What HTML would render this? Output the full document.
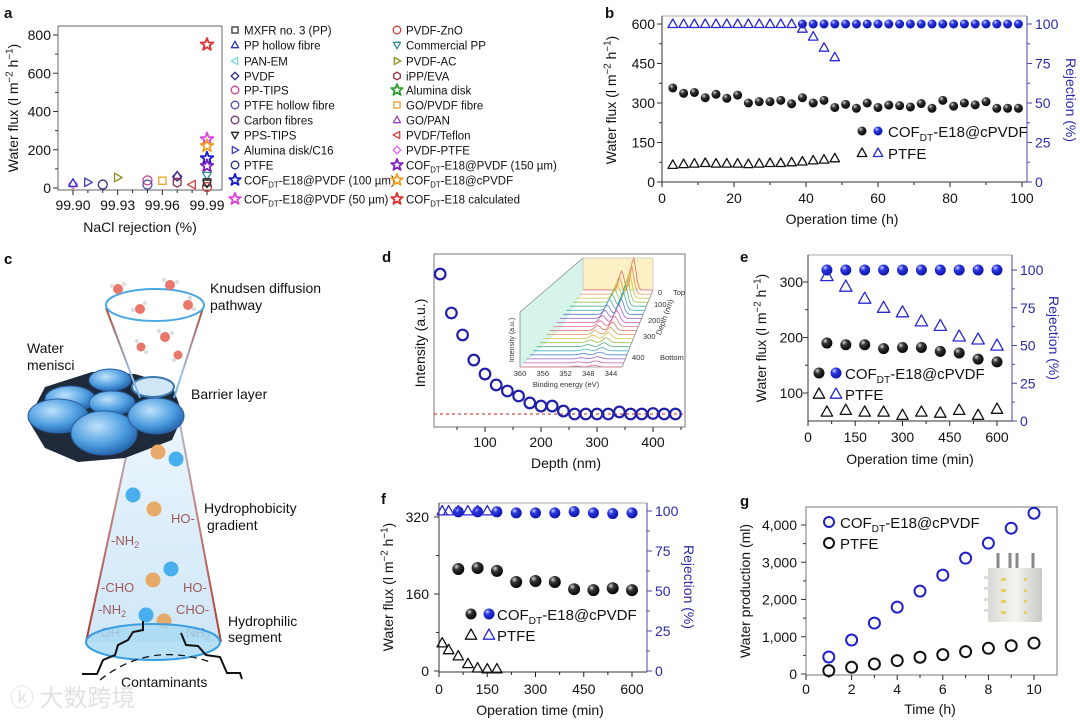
<!DOCTYPE html>
<html><head><meta charset="utf-8">
<style>
body{margin:0;background:#fff}
svg{display:block;font-family:"Liberation Sans","Noto Sans CJK SC",sans-serif}
</style></head>
<body>
<svg id="fig" width="1080" height="721" viewBox="0 0 1080 721" xmlns="http://www.w3.org/2000/svg">
<defs>
<radialGradient id="gBlack" cx="0.35" cy="0.3" r="0.75"><stop offset="0" stop-color="#d8d8d8"/><stop offset="0.35" stop-color="#333"/><stop offset="1" stop-color="#000"/></radialGradient>
<radialGradient id="gBlue" cx="0.35" cy="0.3" r="0.75"><stop offset="0" stop-color="#c8d0ff"/><stop offset="0.35" stop-color="#2a35e0"/><stop offset="1" stop-color="#0a12a0"/></radialGradient>
<linearGradient id="gCone" x1="0" y1="0" x2="0" y2="1"><stop offset="0" stop-color="#eef7fd"/><stop offset="1" stop-color="#cfe7f8"/></linearGradient>
<linearGradient id="gEdge" x1="0" y1="0" x2="0" y2="1"><stop offset="0" stop-color="#b04a3c"/><stop offset="0.75" stop-color="#9cc4e8"/><stop offset="1" stop-color="#6aaee8"/></linearGradient>
<linearGradient id="gEdge2" x1="0" y1="0" x2="0" y2="1"><stop offset="0" stop-color="#a8c8e8"/><stop offset="0.4" stop-color="#c09090"/><stop offset="1" stop-color="#b03a30"/></linearGradient>
<radialGradient id="gMen" cx="0.4" cy="0.35" r="0.7"><stop offset="0" stop-color="#bfe2fb"/><stop offset="0.6" stop-color="#4e9ee0"/><stop offset="1" stop-color="#1f5ea8"/></radialGradient>
<linearGradient id="gBox" x1="0" y1="0" x2="1" y2="0"><stop offset="0" stop-color="#d8d8d4"/><stop offset="0.5" stop-color="#f4f4f0"/><stop offset="1" stop-color="#c8c8c4"/></linearGradient>
</defs>

<!-- Panel c illustration -->
<g>
  <text x="4" y="264" font-size="15" font-weight="bold">c</text>
  <polygon points="140,392 174,392 221,642 86,642" fill="url(#gCone)"/>
  <line x1="140" y1="392" x2="86" y2="642" stroke="url(#gEdge2)" stroke-width="2"/>
  <line x1="174" y1="392" x2="221" y2="642" stroke="url(#gEdge2)" stroke-width="2"/>
  <g>
    <polygon points="28,420 45,387 92,372 135,374 172,385 183,415 172,440 125,458 78,462 45,448" fill="#1e2a3a"/>
    <ellipse cx="70" cy="399" rx="25" ry="13" fill="url(#gMen)" stroke="#2a5ea0"/>
    <ellipse cx="110" cy="380" rx="21" ry="11" fill="url(#gMen)" stroke="#2a5ea0"/>
    <ellipse cx="112" cy="403" rx="23" ry="12" fill="url(#gMen)" stroke="#2a5ea0"/>
    <ellipse cx="58" cy="416" rx="30" ry="17" fill="url(#gMen)" stroke="#2a5ea0"/>
    <ellipse cx="104" cy="433" rx="33" ry="22" fill="url(#gMen)" stroke="#2a5ea0"/>
    <ellipse cx="156" cy="416" rx="28" ry="18" fill="url(#gMen)" stroke="#2a5ea0"/>
    <ellipse cx="153" cy="387" rx="21" ry="10" fill="#cfe6f6" stroke="#3a78b0" stroke-width="2"/>
  </g>
  <line x1="106" y1="308" x2="140" y2="398" stroke="url(#gEdge)" stroke-width="2"/>
  <line x1="203" y1="308" x2="174" y2="398" stroke="url(#gEdge)" stroke-width="2"/>
  <ellipse cx="155" cy="305" rx="49" ry="16" fill="none" stroke="#4aa8e0" stroke-width="2"/>
  <g fill="#e8766a">
    <circle cx="118" cy="289" r="5"/><circle cx="170" cy="285" r="5"/><circle cx="140" cy="309" r="5"/><circle cx="188" cy="305" r="5"/><circle cx="165" cy="337" r="5"/><circle cx="141" cy="347" r="4.5"/><circle cx="178" cy="355" r="4.5"/>
    <g fill="#ddd"><circle cx="112" cy="286" r="2.2"/><circle cx="124" cy="284" r="2.2"/><circle cx="164" cy="280" r="2.2"/><circle cx="177" cy="282" r="2.2"/><circle cx="145" cy="303" r="2.2"/><circle cx="133" cy="310" r="2.2"/><circle cx="190" cy="298" r="2.2"/><circle cx="194" cy="309" r="2.2"/><circle cx="159" cy="331" r="2.2"/><circle cx="172" cy="333" r="2.2"/><circle cx="137" cy="341" r="2"/><circle cx="146" cy="352" r="2"/><circle cx="174" cy="360" r="2"/></g>
  </g>
  <g>
    <circle cx="158" cy="452" r="7.5" fill="#e8aa68"/><circle cx="176" cy="459" r="7.5" fill="#48aeee"/>
    <circle cx="133" cy="495" r="7.5" fill="#48aeee"/><circle cx="154" cy="509" r="7.5" fill="#e8aa68"/>
    <circle cx="171" cy="569" r="7.5" fill="#48aeee"/><circle cx="153" cy="580" r="7.5" fill="#e8aa68"/>
    <circle cx="146" cy="615" r="7.5" fill="#48aeee"/><circle cx="164" cy="621" r="7.5" fill="#e8aa68"/>
  </g>
  <g font-size="13" fill="#a05a5a">
    <text x="171" y="523">HO-</text><text x="111" y="545">-NH<tspan font-size="9" dy="3">2</tspan></text>
    <text x="101" y="592">-CHO</text><text x="183" y="592">HO-</text>
    <text x="98" y="614">-NH<tspan font-size="9" dy="3">2</tspan></text><text x="176" y="614">CHO-</text>
    <text x="96" y="637">-OH</text><text x="186" y="637">NH<tspan font-size="9" dy="3">2</tspan></text>
  </g>
  <ellipse cx="153" cy="642" rx="67" ry="18" fill="#a6d8f4" fill-opacity="0.8" stroke="#3a9ee0" stroke-width="2"/>
  <g fill="none" stroke="#111" stroke-width="2">
    <polyline points="82,674 97,674 103,660 115,655 118,645 128,640 133,632 143,630 143,621"/>
    <polyline points="181,633 186,645 198,646 206,655 220,657 227,673 240,673 242,679"/>
    <path d="M100,680 Q150,640 213,663" stroke-dasharray="7,5" stroke-width="1.3"/>
  </g>
  <g font-size="14" fill="#111">
    <text x="210" y="293">Knudsen diffusion</text><text x="210" y="310">pathway</text>
    <text x="27" y="353">Water</text><text x="27" y="370">menisci</text>
    <text x="191" y="399">Barrier layer</text>
    <text x="204" y="513">Hydrophobicity</text><text x="207" y="530">gradient</text>
    <text x="228" y="626">Hydrophilic</text><text x="228" y="642">segment</text>
    <text x="121" y="687">Contaminants</text>
  </g>
  <text x="10" y="706" font-size="24" fill="#e2e2e2" font-family="'Noto Sans CJK SC',sans-serif">ⓚ 大数跨境</text>
</g>
</svg>

<script>
// ---------- DATA: panel a ----------
const aLegendNames = ["MXFR no. 3 (PP)","PP hollow fibre","PAN-EM","PVDF","PP-TIPS","PTFE hollow fibre","Carbon fibres","PPS-TIPS","Alumina disk/C16","PTFE","COF|-E18@PVDF (100 µm)","COF|-E18@PVDF (50 µm)",
  "PVDF-ZnO","Commercial PP","PVDF-AC","iPP/EVA","Alumina disk","GO/PVDF fibre","GO/PAN","PVDF/Teflon","PVDF-PTFE","COF|-E18@PVDF (150 µm)","COF|-E18@cPVDF","COF|-E18 calculated"];
const aMarkers = ["square","tri","trileft","diamond","circle","circle","circle","tridown","triright","circle","star","star",
  "circle","tridown","triright","hex","star","square","tri","trileft","diamond","star","star","star"];
const aColors = ["#333","#3030c0","#80d8e0","#303080","#d04090","#5050b0","#803070","#222","#4040c0","#303080","#1a1ac8","#e040e0",
  "#d04040","#309090","#909020","#903040","#30a030","#e0a030","#a040c0","#d04040","#e060e0","#8020c0","#f0a020","#e03030"];
const aPtSeries = [20,1,8,9,14,4,5,17,18,3,15,19,23,11,22,10,21,13,7,12,0];
const aPtRejection = [99.90,99.90,99.91,99.92,99.93,99.95,99.95,99.96,99.97,99.97,99.97,99.98,99.99,99.99,99.99,99.99,99.99,99.99,99.99,99.99,99.99];
const aPtFlux = [20,25,30,18,55,40,18,38,65,60,28,18,750,255,220,155,115,65,25,5,30];
const aXTicks = [99.90,99.93,99.96,99.99];
const aYTicks = [0,200,400,600,800];

// ---------- DATA: panel b ----------
const bCofTime = [3,6,9,12,15,18,21,24,27,30,33,36,39,42,45,48,51,54,57,60,63,66,69,72,75,78,81,84,87,90,93,96,99];
const bCofFlux = [357,337,340,320,333,318,330,300,305,305,310,297,320,300,310,283,295,280,300,283,292,290,285,298,280,310,288,300,293,305,280,280,280];
const bCofRejTime = [39,42,45,48,51,54,57,60,63,66,69,72,75,78,81,84,87,90,93,96,99];
const bCofRej = [100,100,100,100,100,100,100,100,100,100,100,100,100,100,100,100,100,100,100,100,100];
const bPtfeTime = [3,6,9,12,15,18,21,24,27,30,33,36,39,42,45,48];
const bPtfeFlux = [65,68,70,72,70,70,70,68,70,72,72,75,78,82,85,90];
const bPtfeRej = [100,100,100,100,100,100,100,100,100,100,100,100,97,92,85,79];
const bXTicks = [0,20,40,60,80,100];
const bYTicks = [0,150,300,450,600];
const bRTicks = [0,25,50,75,100];

// ---------- DATA: panel d ----------
const dDepth = [20,40,60,80,100,120,140,160,180,200,220,240,260,280,300,320,340,360,380,400,420,440];
const dIntensity = [88.4,65.9,53.2,38.7,30.6,24.3,20.8,17.9,13.9,12.1,12.1,9.2,7.5,7.5,7.5,7.5,8.7,7.5,7.5,7.8,7.5,7.5];
const dBaseline = [7.5];
const dXTicks = [100,200,300,400];

// ---------- DATA: panel e ----------
const eTime = [60,120,180,240,300,360,420,480,540,600];
const eCofFlux = [190,187,187,180,182,182,175,172,161,156];
const ePtfeFlux = [66,69,66,66,60,66,64,69,60,71];
const eCofRej = [100,100,100,100,100,100,100,100,100,100];
const ePtfeRej = [96,89,81,75,72,66,63,56,54,50];
const eXTicks = [0,150,300,450,600];
const eYTicks = [100,200,300];
const eRTicks = [0,25,50,75,100];

// ---------- DATA: panel f ----------
const fTime = [60,120,180,240,300,360,420,480,540,600];
const fCofFlux = [212,214,208,185,187,185,170,168,172,168];
const fCofRej = [99.5,99.5,99.5,98.8,98.8,98.8,99.6,98.8,98.4,98.8];
const fPtfeTime = [10,30,60,90,120,150,180];
const fPtfeFlux = [58,44,31,15,6,4,4];
const fPtfeRejTime = [10,30,60,90,120,150];
const fPtfeRej = [100,100,100,100,100,100];
const fXTicks = [0,150,300,450,600];
const fYTicks = [0,160,320];
const fRTicks = [0,25,50,75,100];

// ---------- DATA: panel g ----------
const gTime = [1,2,3,4,5,6,7,8,9,10];
const gCof = [456,912,1367,1796,2225,2654,3110,3512,3914,4316];
const gPtfe = [90,180,270,360,450,520,600,690,760,830];
const gXTicks = [0,2,4,6,8,10];
const gYTicks = [0,1000,2000,3000,4000];
const gYLabels = ["0","1,000","2,000","3,000","4,000"];

// ---------- helpers ----------
const NS = "http://www.w3.org/2000/svg";
const svg = document.getElementById("fig");
function mk(tag, attrs, parent){ const e = document.createElementNS(NS, tag); for (const k in attrs) e.setAttribute(k, attrs[k]); (parent || svg).appendChild(e); return e; }
function scale(d0, d1, r0, r1){ return v => r0 + (v - d0) * (r1 - r0) / (d1 - d0); }
function grp(parent){ return mk("g", {}, parent); }
const BLUEAX = "#4a4aa0", BLUETX = "#2a2aa8";

function marker(parent, type, x, y, s, color, fill){
  let e, sw = 1.3;
  const f = fill || "none";
  if (type === "circle") e = mk("circle", {cx:x, cy:y, r:s, fill:f, stroke:color, "stroke-width":sw}, parent);
  else if (type === "sphereK") e = mk("circle", {cx:x, cy:y, r:s, fill:"url(#gBlack)"}, parent);
  else if (type === "sphereB") e = mk("circle", {cx:x, cy:y, r:s, fill:"url(#gBlue)"}, parent);
  else if (type === "square") e = mk("rect", {x:x-s*0.8, y:y-s*0.8, width:s*1.6, height:s*1.6, fill:f, stroke:color, "stroke-width":sw}, parent);
  else {
    let pts = [];
    if (type === "tri") pts = [[0,-1],[0.95,0.7],[-0.95,0.7]];
    else if (type === "tridown") pts = [[0,1],[0.95,-0.7],[-0.95,-0.7]];
    else if (type === "trileft") pts = [[-1,0],[0.7,-0.95],[0.7,0.95]];
    else if (type === "triright") pts = [[1,0],[-0.7,-0.95],[-0.7,0.95]];
    else if (type === "diamond") pts = [[0,-1],[1,0],[0,1],[-1,0]];
    else if (type === "hex") { for (let i=0;i<6;i++){ const a = Math.PI/6 + i*Math.PI/3; pts.push([Math.cos(a), Math.sin(a)]); } }
    else if (type === "star") { for (let i=0;i<10;i++){ const a = -Math.PI/2 + i*Math.PI/5; const r = i%2 ? 0.45 : 1.1; pts.push([r*Math.cos(a), r*Math.sin(a)]); } sw = 1.8; }
    e = mk("polygon", {points: pts.map(p => (x+p[0]*s).toFixed(1)+","+(y+p[1]*s).toFixed(1)).join(" "), fill:f, stroke:color, "stroke-width":sw, "stroke-linejoin":"round"}, parent);
  }
  return e;
}
function cofText(parent, x, y, label, size, color){
  const t = mk("text", {x:x, y:y, "font-size":size, fill:color || "#111"}, parent);
  const parts = label.split("|");
  if (parts.length === 1) { t.textContent = label; return t; }
  t.appendChild(document.createTextNode(parts[0]));
  const s1 = mk("tspan", {"font-size":size*0.68, dy:size*0.25}, t); s1.textContent = "DT";
  const s2 = mk("tspan", {dy:-size*0.25}, t); s2.textContent = parts[1];
  return t;
}
function text(parent, x, y, str, size, anchor, color, extra){
  const a = {x:x, y:y, "font-size":size, "text-anchor":anchor || "start", fill:color || "#111"};
  if (extra) for (const k in extra) a[k] = extra[k];
  const t = mk("text", a, parent); t.textContent = str; return t;
}
function fluxTitle(parent, x, y, size){
  const t = mk("text", {x:0, y:0, "font-size":size, "text-anchor":"middle", fill:"#111", transform:"translate("+x+","+y+") rotate(-90)"}, parent);
  t.appendChild(document.createTextNode("Water flux (l m"));
  const a = mk("tspan", {"font-size":size*0.7, dy:-size*0.4}, t); a.textContent = "−2";
  const b = mk("tspan", {dy:size*0.4}, t); b.textContent = " h";
  const c = mk("tspan", {"font-size":size*0.7, dy:-size*0.4}, t); c.textContent = "−1";
  const d = mk("tspan", {dy:size*0.4}, t); d.textContent = ")";
  return t;
}
function ticksY(parent, sc, vals, x, dir, color, len){
  vals.forEach(v => { mk("line", {x1:x, x2:x + dir*len, y1:sc(v), y2:sc(v), stroke:color, "stroke-width":1}, parent); });
}
function ticksX(parent, sc, vals, y, len, color){
  vals.forEach(v => { mk("line", {x1:sc(v), x2:sc(v), y1:y, y2:y+len, stroke:color || "#222", "stroke-width":1}, parent); });
}
function mids(arr){ const r=[]; for (let i=0;i<arr.length-1;i++) r.push((arr[i]+arr[i+1])/2); return r; }

// ---------- Panel a ----------
(function(){
  const g = grp();
  
  
  const lab = text(g, 4, 18, "a", 15, "start", "#111", {"font-weight":"bold"});
  
  
  const L=58, R=222, T=26, B=190;
  const x = scale(99.90, 99.99, 73, 207), y = scale(0, 800, 188, 35);
  const fr = mk("rect", {x:L, y:T, width:R-L, height:B-T, fill:"none", stroke:"#666", "stroke-width":1}, g);
  
  
  ticksY(g, y, aYTicks, L, -1, "#333", 5);
  ticksY(g, y, mids(aYTicks), L, -1, "#333", 3);
  ticksX(g, x, aXTicks, B, 5);
  ticksX(g, x, [99.91,99.92,99.94,99.95,99.97,99.98], B, 3);
  aYTicks.forEach(v => { const t = text(g, L-7, y(v)+5, String(v), 14, "end");
    
     });
  aXTicks.forEach(v => { const t = text(g, x(v), 210, v.toFixed(2), 14, "middle");
    
     });
  const xt = text(g, 140, 232, "NaCl rejection (%)", 14, "middle");
  
  
  const yt = fluxTitle(g, 18, 108, 14);
  
  
  aPtSeries.forEach((si, i) => {
    const m = marker(g, aMarkers[si], x(aPtRejection[i]), y(aPtFlux[i]), aMarkers[si]==="star" ? 6 : 4.5, aColors[si]);
    
    
  });
  const rows = [30,45,61,76,90,105,120,135,150,165,180,199];
  aLegendNames.forEach((nm, i) => {
    const col = i < 12 ? 0 : 1, r = i % 12;
    const mx = col ? 397 : 235, ty = rows[r];
    const lg = grp(g);
    
    
    marker(lg, aMarkers[i], mx, ty, aMarkers[i]==="star" ? 5.5 : 3.8, aColors[i]);
    cofText(lg, mx+9, ty+4.5, nm, 11.5, "#111");
  });
})();

// ---------- Panel b ----------
(function(){
  const g = grp();
  
  
  const lab = text(g, 605, 18, "b", 15, "start", "#111", {"font-weight":"bold"});
  
  
  const L=662, R=1027, T=16, B=182;
  const x = scale(0, 100, 662, 1022), y = scale(0, 600, 182, 24), r = scale(0, 100, 182, 24);
  mk("line", {x1:L, x2:R, y1:T, y2:T, stroke:"#aaa"}, g);
  mk("line", {x1:L, x2:L, y1:T, y2:B, stroke:"#333"}, g);
  mk("line", {x1:L, x2:R, y1:B, y2:B, stroke:"#333"}, g);
  mk("line", {x1:R, x2:R, y1:T, y2:B, stroke:BLUEAX}, g);
  ticksY(g, y, bYTicks, L, -1, "#333", 5);
  ticksY(g, y, mids(bYTicks), L, -1, "#333", 3);
  ticksY(g, r, bRTicks, R, 1, BLUEAX, 5);
  ticksY(g, r, mids(bRTicks), R, 1, BLUEAX, 3);
  ticksX(g, x, bXTicks, B, 5);
  ticksX(g, x, mids(bXTicks), B, 3);
  bYTicks.forEach(v => { const t = text(g, L-7, y(v)+5, String(v), 14, "end");
    
     });
  bRTicks.forEach(v => { const t = text(g, R+8, r(v)+5, String(v), 14, "start", BLUETX);
    
     });
  bXTicks.forEach(v => { const t = text(g, x(v), 203, String(v), 14, "middle");
    
     });
  const xt = text(g, 842, 224, "Operation time (h)", 14, "middle");
  
  
  const yt = fluxTitle(g, 616, 100, 14);
  
  
  const rt = text(g, 0, 0, "Rejection (%)", 14, "middle", BLUETX, {transform:"translate(1066,100) rotate(90)"});
  
  
  bCofTime.forEach((t, i) => { const m = marker(g, "sphereK", x(t), y(bCofFlux[i]), 4.5);
    
     });
  bPtfeTime.forEach((t, i) => { const m = marker(g, "tri", x(t), y(bPtfeFlux[i]), 5, "#111");
    
     });
  bCofRejTime.forEach((t, i) => { const m = marker(g, "sphereB", x(t), r(bCofRej[i]), 4.5);
    
     });
  bPtfeTime.forEach((t, i) => { const m = marker(g, "tri", x(t), r(bPtfeRej[i]), 5, "#2a2ad0");
    
     });
  const l1 = grp(g);
  
  
  marker(l1, "sphereK", 862, 131, 4.5); marker(l1, "sphereB", 878, 131, 4.5);
  cofText(l1, 888, 137, "COF|-E18@cPVDF", 15);
  const l2 = grp(g);
  
  
  marker(l2, "tri", 862, 153, 5, "#111"); marker(l2, "tri", 878, 153, 5, "#2a2ad0");
  text(l2, 888, 159, "PTFE", 15);
})();

// ---------- Panel d ----------
(function(){
  const g = grp();
  
  
  const lab = text(g, 382, 262, "d", 15, "start", "#111", {"font-weight":"bold"});
  
  
  const L=434, R=685, T=254, B=427;
  const x = scale(0, 100, 429, 485), y = scale(0, 100, 427, 254);
  const fr = mk("rect", {x:L, y:T, width:R-L, height:B-T, fill:"none", stroke:"#777"}, g);
  
  
  ticksX(g, x, dXTicks, B, 5);
  ticksX(g, x, [50,150,250,350,450], B, 3);
  dXTicks.forEach(v => { const t = text(g, x(v), 447, String(v), 14, "middle");
    
     });
  const xt = text(g, 566, 468, "Depth (nm)", 14, "middle");
  
  
  const yt = text(g, 0, 0, "Intensity (a.u.)", 14, "middle", "#111", {transform:"translate(425,343) rotate(-90)"});
  
  
  const ins = grp(g);
  
  
  mk("polygon", {points:"520,312 583,258 583,292 560,330 520,367", fill:"#d6f4ea"}, ins);
  mk("rect", {x:583, y:258, width:70, height:32, fill:"#fbf1c4", stroke:"#bbb", "stroke-width":0.6}, ins);
  mk("line", {x1:520, y1:312, x2:583, y2:258, stroke:"#888", "stroke-width":0.8}, ins);
  mk("line", {x1:520, y1:312, x2:520, y2:367, stroke:"#888", "stroke-width":0.8}, ins);
  mk("line", {x1:520, y1:367, x2:622, y2:367, stroke:"#888", "stroke-width":0.8}, ins);
  mk("line", {x1:653, y1:290, x2:622, y2:367, stroke:"#888", "stroke-width":0.8}, ins);
  const cols = ["#e06a6a","#e09a50","#d8c040","#90c050","#50b080","#40b0c0","#5080d0","#9060c0","#c060b0","#e07090"];
  for (let i=0;i<20;i++){
    const t = i/19, x0 = 583 + (520-583)*t, x1 = 653 + (622-653)*t, yb = 290 + (367-290)*t;
    const h1 = 30*(1-t)*(1-t)+2, h2 = 18*(1-t)*(1-t)+1;
    let d = "";
    for (let k=0;k<=40;k++){ const u=k/40; const px = x0+(x1-x0)*u;
      const py = yb - h1*Math.exp(-Math.pow((u-0.72)/0.05,2)) - h2*Math.exp(-Math.pow((u-0.55)/0.05,2));
      d += (k?"L":"M")+px.toFixed(1)+","+py.toFixed(1); }
    mk("path", {d:d, fill:"none", stroke:cols[i%10], "stroke-width":0.8}, ins);
  }
  const ex = scale(360, 344, 520, 611);
  [360,356,352,348,344].forEach(v => text(ins, ex(v), 376, String(v), 7.5, "middle", "#333"));
  text(ins, 566, 387, "Binding energy (eV)", 7.5, "middle", "#333");
  text(ins, 0, 0, "Intensity (a.u.)", 7, "middle", "#333", {transform:"translate(514,340) rotate(-90)"});
  [["0",658,295],["100",654,307],["200",648,323],["300",643,339],["400",632,360]].forEach(a => text(ins, a[1], a[2], a[0], 7.5, "start", "#333"));
  text(ins, 673, 295, "Top", 7.5, "start", "#333");
  text(ins, 660, 360, "Bottom", 7.5, "start", "#333");
  text(ins, 0, 0, "Depth (nm)", 7.5, "middle", "#333", {transform:"translate(667,318) rotate(-70)"});
  const bl = mk("line", {x1:L, x2:R, y1:y(dBaseline[0]), y2:y(dBaseline[0]), stroke:"#d02020", "stroke-dasharray":"3,3", "stroke-width":1}, g);
  
  
  dDepth.forEach((d, i) => { const m = marker(g, "circle", x(d), y(dIntensity[i]), 5.3, "#2020a8");
    m.setAttribute("stroke-width", 2.2);
    
     });
})();

// ---------- Panel e ----------
(function(){
  const g = grp();
  
  
  const lab = text(g, 740, 262, "e", 15, "start", "#111", {"font-weight":"bold"});
  
  
  const L=808, R=1012, T=255, B=421;
  const x = scale(0, 600, 808, 997), y = scale(100, 300, 393, 282), r = scale(0, 100, 421, 270);
  mk("line", {x1:L, x2:R, y1:T, y2:T, stroke:"#aaa"}, g);
  mk("line", {x1:L, x2:L, y1:T, y2:B, stroke:"#333"}, g);
  mk("line", {x1:L, x2:R, y1:B, y2:B, stroke:"#333"}, g);
  mk("line", {x1:R, x2:R, y1:T, y2:B, stroke:BLUEAX}, g);
  ticksY(g, y, eYTicks, L, -1, "#333", 5);
  ticksY(g, y, [150,250], L, -1, "#333", 3);
  ticksY(g, r, eRTicks, R, 1, BLUEAX, 5);
  ticksY(g, r, mids(eRTicks), R, 1, BLUEAX, 3);
  ticksX(g, x, eXTicks, B, 5);
  ticksX(g, x, mids(eXTicks), B, 3);
  eYTicks.forEach(v => { const t = text(g, 803, y(v)+5, String(v), 14, "end");
    
     });
  eRTicks.forEach(v => { const t = text(g, R+8, r(v)+5, String(v), 14, "start", BLUETX);
    
     });
  eXTicks.forEach(v => { const t = text(g, x(v), 442, String(v), 14, "middle");
    
     });
  const xt = text(g, 910, 464, "Operation time (min)", 14, "middle");
  
  
  const yt = fluxTitle(g, 766, 338, 14);
  
  
  const rt = text(g, 0, 0, "Rejection (%)", 14, "middle", BLUETX, {transform:"translate(1049,338) rotate(90)"});
  
  
  eTime.forEach((t, i) => {
    const a = marker(g, "sphereK", x(t), y(eCofFlux[i]), 5.5);
    
    
    const b = marker(g, "tri", x(t), y(ePtfeFlux[i]), 6, "#111");
    
    
    const c = marker(g, "sphereB", x(t), r(eCofRej[i]), 5.5);
    
    
    const d = marker(g, "tri", x(t), r(ePtfeRej[i]), 6.5, "#2a2ad0");
    
    
  });
  const l1 = grp(g);
  
  
  marker(l1, "sphereK", 819, 373, 5.5); marker(l1, "sphereB", 836, 373, 5.5);
  cofText(l1, 845, 379, "COF|-E18@cPVDF", 15);
  const l2 = grp(g);
  
  
  marker(l2, "tri", 819, 394, 6, "#111"); marker(l2, "tri", 836, 394, 6, "#2a2ad0");
  text(l2, 845, 400, "PTFE", 15);
})();

// ---------- Panel f ----------
(function(){
  const g = grp();
  
  
  const lab = text(g, 381, 504, "f", 15, "start", "#111", {"font-weight":"bold"});
  
  
  const L=439, R=647, T=503, B=672;
  const x = scale(0, 600, 439, 632), y = scale(0, 320, 671, 517), r = scale(0, 100, 671, 511);
  mk("line", {x1:L, x2:R, y1:T, y2:T, stroke:"#aaa"}, g);
  mk("line", {x1:L, x2:L, y1:T, y2:B, stroke:"#333"}, g);
  mk("line", {x1:L, x2:R, y1:B, y2:B, stroke:"#333"}, g);
  mk("line", {x1:R, x2:R, y1:T, y2:B, stroke:BLUEAX}, g);
  ticksY(g, y, fYTicks, L, -1, "#333", 5);
  ticksY(g, y, [80,240], L, -1, "#333", 3);
  ticksY(g, r, fRTicks, R, 1, BLUEAX, 5);
  ticksY(g, r, mids(fRTicks), R, 1, BLUEAX, 3);
  ticksX(g, x, fXTicks, B, 5);
  ticksX(g, x, mids(fXTicks), B, 3);
  fYTicks.forEach(v => { const t = text(g, 429, y(v)+5, String(v), 14, "end");
    
     });
  fRTicks.forEach(v => { const t = text(g, R+8, r(v)+5, String(v), 14, "start", BLUETX);
    
     });
  fXTicks.forEach(v => { const t = text(g, x(v), 694, String(v), 14, "middle");
    
     });
  const xt = text(g, 540, 715, "Operation time (min)", 14, "middle");
  
  
  const yt = fluxTitle(g, 393, 587, 14);
  
  
  const rt = text(g, 0, 0, "Rejection (%)", 14, "middle", BLUETX, {transform:"translate(684,587) rotate(90)"});
  
  
  fTime.forEach((t, i) => {
    const a = marker(g, "sphereK", x(t), y(fCofFlux[i]), 6);
    
    
    const c = marker(g, "sphereB", x(t), r(fCofRej[i]), 5.5);
    
    
  });
  fPtfeTime.forEach((t, i) => { const b = marker(g, "tri", x(t), y(fPtfeFlux[i]), 5.5, "#111");
    
     });
  fPtfeRejTime.forEach((t, i) => { const b = marker(g, "tri", x(t), r(fPtfeRej[i]), 5.5, "#2a2ad0");
    
     });
  const l1 = grp(g);
  
  
  marker(l1, "sphereK", 471, 614, 5.5); marker(l1, "sphereB", 489, 614, 5.5);
  cofText(l1, 497, 620, "COF|-E18@cPVDF", 15);
  const l2 = grp(g);
  
  
  marker(l2, "tri", 471, 635, 6, "#111"); marker(l2, "tri", 489, 635, 6, "#2a2ad0");
  text(l2, 497, 641, "PTFE", 15);
})();

// ---------- Panel g ----------
(function(){
  const g = grp();
  
  
  const lab = text(g, 740, 506, "g", 15, "start", "#111", {"font-weight":"bold"});
  
  
  const L=806, R=1057, T=507, B=675;
  const x = scale(0, 10, 806, 1034), y = scale(0, 4000, 674, 525);
  const fr = mk("rect", {x:L, y:T, width:R-L, height:B-T, fill:"none", stroke:"#777"}, g);
  
  
  ticksY(g, y, gYTicks, L, -1, "#333", 5);
  ticksY(g, y, mids(gYTicks), L, -1, "#333", 3);
  ticksX(g, x, gXTicks, B, 5);
  ticksX(g, x, mids(gXTicks), B, 3);
  gYTicks.forEach((v, i) => { const t = text(g, 797, y(v)+5, gYLabels[i], 14, "end");
    
     });
  gXTicks.forEach(v => { const t = text(g, x(v), 694, String(v), 14, "middle");
    
     });
  const xt = text(g, 930, 714, "Time (h)", 14, "middle");
  
  
  const yt = text(g, 0, 0, "Water production (ml)", 14, "middle", "#111", {transform:"translate(750,591) rotate(-90)"});
  
  
  const ph = grp(g);
  
  
  [998,1010,1017,1033].forEach(px => mk("rect", {x:px-1.5, y:553, width:3, height:18, fill:"#888"}, ph));
  mk("rect", {x:988, y:568, width:54, height:54, rx:2, fill:"url(#gBox)"}, ph);
  for (let k=0;k<4;k++){ mk("rect", {x:1001, y:578+k*11, width:5, height:3, fill:"#e8d060"}, ph); mk("rect", {x:1024, y:578+k*11, width:3, height:3, fill:"#e8d060"}, ph); mk("rect", {x:984, y:576+k*11, width:8, height:3, fill:"#ddd"}, ph); }
  gTime.forEach((t, i) => {
    const a = marker(g, "circle", x(t), y(gCof[i]), 5.5, "#2020c8");
    a.setAttribute("stroke-width", 2);
    
    
    const b = marker(g, "circle", x(t), y(gPtfe[i]), 5.5, "#111");
    b.setAttribute("stroke-width", 2);
    
    
  });
  const l1 = grp(g);
  
  
  const m1 = marker(l1, "circle", 829, 522, 5, "#2020c8"); m1.setAttribute("stroke-width", 2);
  cofText(l1, 840, 528, "COF|-E18@cPVDF", 15);
  const l2 = grp(g);
  
  
  const m2 = marker(l2, "circle", 829, 543, 5, "#111"); m2.setAttribute("stroke-width", 2);
  text(l2, 840, 549, "PTFE", 15);
})();
</script>
</body></html>
